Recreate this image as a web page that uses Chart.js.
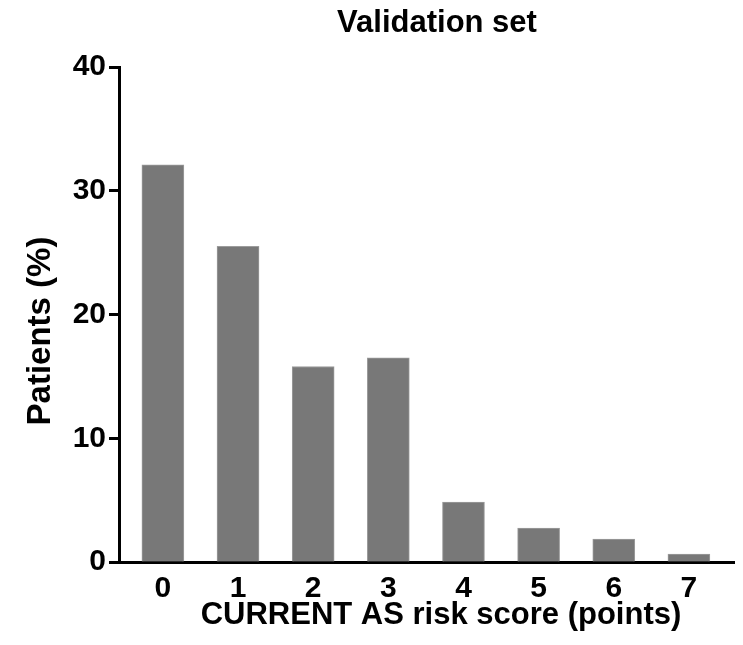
<!DOCTYPE html>
<html>
<head>
<meta charset="utf-8">
<script src="https://cdn.jsdelivr.net/npm/chart.js@4.4.1/dist/chart.umd.min.js"></script>
<style>
  body { margin: 0; background: #fff; }
  #wrap { width: 743px; height: 645px; position: relative; }
</style>
</head>
<body>
<div id="wrap"><canvas id="myChart"></canvas></div>
<script>
// valores
const scores = [0, 1, 2, 3, 4, 5, 6, 7];
const patients = [32.1, 25.5, 15.8, 16.5, 4.85, 2.75, 1.86, 0.65];
const yTicks = [0, 10, 20, 30, 40];
const titulo = 'Validation set';
const tituloX = 'CURRENT AS risk score (points)';
const tituloY = 'Patients (%)';

const FONT = '"Liberation Sans", Arial, Helvetica, sans-serif';

// titulos dibujados a mano para que queden donde estan en la figura
const titulos = {
    id: 'titulos',
    afterDraw(chart) {
        const ctx = chart.ctx;
        ctx.save();
        ctx.fillStyle = '#000';
        ctx.textAlign = 'center';
        ctx.textBaseline = 'alphabetic';
        ctx.font = 'bold 31px ' + FONT;
        ctx.fillText(titulo, 437, 32);
        ctx.fillText(tituloX, 441, 624);
        ctx.translate(50, 331);
        ctx.rotate(-Math.PI / 2);
        ctx.font = 'bold 33px ' + FONT;
        ctx.fillText(tituloY, 0, 0);
        ctx.restore();
    }
};

const ctx = document.getElementById('myChart').getContext('2d');
const myChart = new Chart(ctx, {
    type: 'bar',
    data: {
        datasets: [{
            label: tituloY,
            data: scores.map((s, i) => ({ x: s, y: patients[i] })),
            backgroundColor: '#787878',
            borderColor: '#9c9c9c',
            borderWidth: 1,
            barThickness: 42
        }]
    },
    options: {
        responsive: true,
        maintainAspectRatio: false,
        animation: false,
        layout: { padding: { top: 67, right: 9, left: 0, bottom: 0 } },
        plugins: {
            legend: { display: false },
            title: { display: false },
            tooltip: { enabled: false }
        },
        scales: {
            x: {
                type: 'linear',
                offset: false,
                min: -0.584,
                max: 7.6,
                afterBuildTicks: (s) => { s.ticks = scores.map(v => ({ value: v })); },
                afterFit: (s) => { s.height = 83; },
                grid: { display: false },
                border: { display: true, color: '#000', width: 3 },
                ticks: {
                    color: '#000',
                    padding: 1,
                    font: { family: FONT, size: 30, weight: 'bold' }
                }
            },
            y: {
                min: 0,
                max: 40,
                afterBuildTicks: (s) => { s.ticks = yTicks.map(v => ({ value: v })); },
                afterFit: (s) => { s.width = 119; },
                grid: {
                    drawOnChartArea: false,
                    drawTicks: true,
                    tickLength: 10,
                    tickWidth: 3,
                    tickColor: '#000'
                },
                border: { display: true, color: '#000', width: 3 },
                ticks: {
                    color: '#000',
                    padding: 3,
                    font: { family: FONT, size: 30, weight: 'bold' }
                }
            }
        }
    },
    plugins: [titulos]
});
</script>
</body>
</html>
